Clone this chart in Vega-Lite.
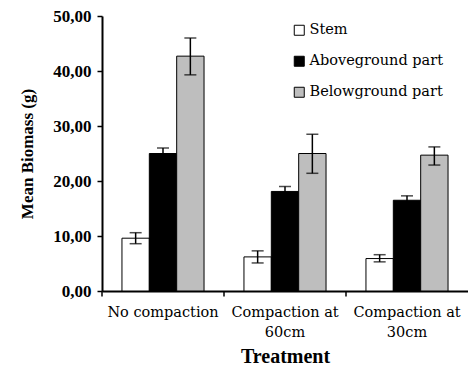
{
  "$schema": "https://vega.github.io/schema/vega-lite/v6.json",
  "width": 366,
  "height": 275,
  "autosize": "none",
  "padding": {"left": 102, "top": 16, "right": 0, "bottom": 80},
  "background": "white",
  "config": {
    "view": {"stroke": null},
    "font": "DejaVu Serif"
  },
  "data": {
    "values": [
      {"treatment": "No compaction", "part": "Stem", "mean": 9.6, "low": 8.6, "high": 10.6},
      {"treatment": "No compaction", "part": "Aboveground part", "mean": 25.0, "low": 24.0, "high": 26.0},
      {"treatment": "No compaction", "part": "Belowground part", "mean": 42.7, "low": 39.3, "high": 46.0},
      {"treatment": "Compaction at 60cm", "part": "Stem", "mean": 6.2, "low": 5.1, "high": 7.3},
      {"treatment": "Compaction at 60cm", "part": "Aboveground part", "mean": 18.1, "low": 17.2, "high": 19.0},
      {"treatment": "Compaction at 60cm", "part": "Belowground part", "mean": 25.0, "low": 21.4, "high": 28.5},
      {"treatment": "Compaction at 30cm", "part": "Stem", "mean": 5.9, "low": 5.3, "high": 6.6},
      {"treatment": "Compaction at 30cm", "part": "Aboveground part", "mean": 16.5, "low": 15.7, "high": 17.3},
      {"treatment": "Compaction at 30cm", "part": "Belowground part", "mean": 24.7, "low": 22.9, "high": 26.2}
    ]
  },
  "encoding": {
    "x": {
      "field": "treatment",
      "type": "nominal",
      "sort": ["No compaction", "Compaction at 60cm", "Compaction at 30cm"],
      "scale": {"paddingInner": 0, "paddingOuter": 0},
      "axis": {
        "title": "Treatment",
        "titleFont": "Liberation Serif",
        "titleFontSize": 20,
        "titleFontWeight": "bold",
        "titleColor": "black",
        "titlePadding": 8,
        "labelFont": "DejaVu Serif",
        "labelFontSize": 14.5,
        "labelColor": "black",
        "labelAngle": 0,
        "labelPadding": 14,
        "labelLineHeight": 20,
        "labelExpr": "datum.label == 'No compaction' ? datum.label : [slice(datum.label, 0, 13), slice(datum.label, 14)]",
        "ticks": false,
        "domainColor": "black",
        "domainWidth": 2
      }
    },
    "y": {
      "type": "quantitative",
      "scale": {"domain": [0, 50]},
      "axis": {
        "title": "Mean Biomass (g)",
        "titleFont": "Liberation Serif",
        "titleFontSize": 17,
        "titleFontWeight": "bold",
        "titleColor": "black",
        "titlePadding": 16,
        "labelFont": "Liberation Serif",
        "labelFontSize": 17,
        "labelFontWeight": "bold",
        "labelColor": "black",
        "labelPadding": 6,
        "values": [0, 10, 20, 30, 40, 50],
        "labelExpr": "replace(format(datum.value, '.2f'), '.', ',')",
        "grid": false,
        "tickSize": 5,
        "tickColor": "black",
        "tickWidth": 1.5,
        "domainColor": "black",
        "domainWidth": 2
      }
    }
  },
  "layer": [
    {
      "mark": {"type": "bar", "stroke": "black", "strokeWidth": 1},
      "encoding": {
        "y": {"field": "mean", "type": "quantitative"},
        "xOffset": {
          "field": "part",
          "type": "nominal",
          "sort": ["Stem", "Aboveground part", "Belowground part"],
          "scale": {"paddingInner": 0, "paddingOuter": 0.73}
        },
        "fill": {
          "field": "part",
          "type": "nominal",
          "sort": ["Stem", "Aboveground part", "Belowground part"],
          "scale": {"domain": ["Stem", "Aboveground part", "Belowground part"], "range": ["white", "black", "#bebebe"]},
          "legend": {
            "title": null,
            "orient": "none",
            "legendX": 190,
            "legendY": 7,
            "symbolType": "square",
            "symbolSize": 100,
            "symbolStrokeColor": "black",
            "symbolStrokeWidth": 1,
            "labelFont": "DejaVu Serif",
            "labelFontSize": 14.5,
            "labelColor": "black",
            "labelOffset": 3,
            "rowPadding": 15
          }
        }
      }
    },
    {
      "mark": {"type": "rule", "color": "black", "strokeWidth": 1.5},
      "encoding": {
        "y": {"field": "low", "type": "quantitative"},
        "y2": {"field": "high"},
        "xOffset": {
          "field": "part",
          "type": "nominal",
          "sort": ["Stem", "Aboveground part", "Belowground part"]
        }
      }
    },
    {
      "mark": {"type": "tick", "color": "black", "size": 12, "thickness": 1.5},
      "encoding": {
        "y": {"field": "high", "type": "quantitative"},
        "xOffset": {
          "field": "part",
          "type": "nominal",
          "sort": ["Stem", "Aboveground part", "Belowground part"]
        }
      }
    },
    {
      "mark": {"type": "tick", "color": "black", "size": 12, "thickness": 1.5},
      "encoding": {
        "y": {"field": "low", "type": "quantitative"},
        "xOffset": {
          "field": "part",
          "type": "nominal",
          "sort": ["Stem", "Aboveground part", "Belowground part"]
        }
      }
    },
    {
      "transform": [{"filter": "datum.part == 'Stem'"}],
      "mark": {"type": "rule", "color": "black", "strokeWidth": 1.5},
      "encoding": {
        "x": {"field": "treatment", "type": "nominal", "sort": ["No compaction", "Compaction at 60cm", "Compaction at 30cm"], "bandPosition": 0},
        "y": {"datum": 0},
        "y2": {"datum": -1}
      }
    }
  ]
}
